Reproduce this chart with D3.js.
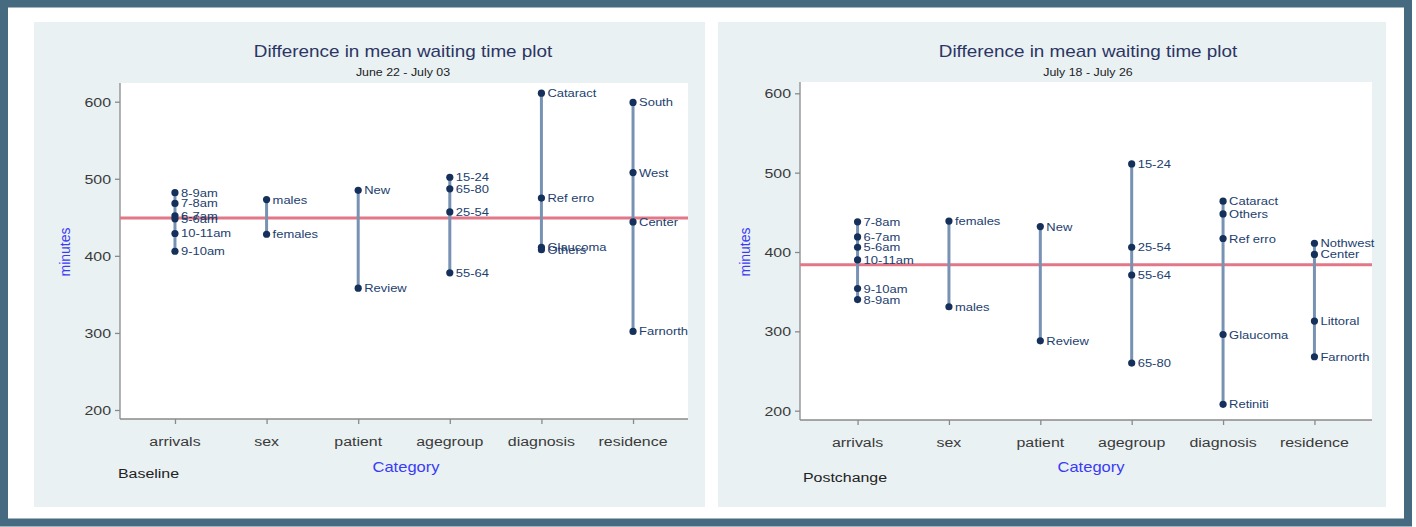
<!DOCTYPE html>
<html>
<head>
<meta charset="utf-8">
<script src="https://cdn.jsdelivr.net/npm/d3@7"></script>
<style>
  body { margin: 0; background: #fff; }
  svg { display: block; font-family: "Liberation Sans", Arial, sans-serif; }
</style>
</head>
<body>
<svg id="chart" width="1416" height="527"></svg>
<script>
var categories = ["arrivals", "sex", "patient", "agegroup", "diagnosis", "residence"];
var yTicks = [200, 300, 400, 500, 600];

// baseline, June 22 - July 03
var baseArrivals = [["8-9am", 482], ["7-8am", 468], ["6-7am", 452], ["5-6am", 448], ["10-11am", 429], ["9-10am", 406]];
var baseSex = [["males", 473], ["females", 428]];
var basePatient = [["New", 485], ["Review", 358]];
var baseAgegroup = [["15-24", 502], ["65-80", 487], ["25-54", 457], ["55-64", 378]];
var baseDiagnosis = [["Cataract", 611], ["Ref erro", 475], ["Glaucoma", 411], ["Others", 408]];
var baseResidence = [["South", 599], ["West", 508], ["Center", 444], ["Farnorth", 302]];
var baseMean = 449;

// postchange, July 18 - July 26
var postArrivals = [["7-8am", 438], ["6-7am", 419], ["5-6am", 406], ["10-11am", 390], ["9-10am", 354], ["8-9am", 340]];
var postSex = [["females", 439], ["males", 331]];
var postPatient = [["New", 432], ["Review", 288]];
var postAgegroup = [["15-24", 511], ["25-54", 406], ["55-64", 371], ["65-80", 260]];
var postDiagnosis = [["Cataract", 464], ["Others", 448], ["Ref erro", 417], ["Glaucoma", 296], ["Retiniti", 208]];
var postResidence = [["Nothwest", 411], ["Center", 397], ["Littoral", 313], ["Farnorth", 268]];
var postMean = 384;

var SX = 1.18; // the picture is a bit wider than tall
var svg = d3.select("#chart");

function txt(g, x, y, s, size, color, anchor) {
  return g.append("text")
    .attr("transform", "translate(" + x + "," + y + ") scale(" + SX + ",1)")
    .attr("font-size", size)
    .attr("fill", color)
    .attr("text-anchor", anchor || "start")
    .text(s);
}

svg.append("rect").attr("x", 4).attr("y", 3.5).attr("width", 1404).attr("height", 519)
  .attr("fill", "#fff").attr("stroke", "#466a80").attr("stroke-width", 8);

function panel(p) {
  var g = svg.append("g");
  g.append("rect").attr("x", p.px).attr("y", 22).attr("width", p.pw).attr("height", 485).attr("fill", "#e9f1f3");
  g.append("rect").attr("x", p.x0).attr("y", p.y0).attr("width", p.x1 - p.x0).attr("height", p.y1 - p.y0).attr("fill", "#fff");

  var x = d3.scalePoint().domain(categories).range([p.x0, p.x1]).padding(p.pad);
  var y = d3.scaleLinear().domain([200, 600]).range(p.yr);

  var ya = g.append("g").attr("transform", "translate(" + p.x0 + ",0)")
    .call(d3.axisLeft(y).tickValues(yTicks).tickSize(5).tickPadding(3));
  ya.select(".domain").attr("d", "M0," + p.y0 + "V" + p.y1);
  var xa = g.append("g").attr("transform", "translate(0," + p.y1 + ")")
    .call(d3.axisBottom(x).tickSize(5).tickFormat(""));
  xa.select(".domain").attr("d", "M" + p.x0 + ",0H" + p.x1);
  g.selectAll(".domain, .tick line").attr("stroke", "#8a8a8a").attr("stroke-width", 1.3);
  ya.selectAll(".tick text").remove();
  yTicks.forEach(function (t) {
    txt(g, p.x0 - 9, y(t) + 5, t, 13.5, "#3a3a3a", "end");
  });
  categories.forEach(function (c) {
    txt(g, x(c), p.y1 + 27, c, 13.5, "#3a3a3a", "middle");
  });

  // mean line
  g.append("line").attr("x1", p.x0).attr("x2", p.x1).attr("y1", y(p.mean)).attr("y2", y(p.mean))
    .attr("stroke", "#e27787").attr("stroke-width", 3);

  p.groups.forEach(function (grp, i) {
    var cx = x(categories[i]);
    var ext = d3.extent(grp, function (d) { return d[1]; });
    g.append("line").attr("x1", cx).attr("x2", cx).attr("y1", y(ext[0])).attr("y2", y(ext[1]))
      .attr("stroke", "#7792b2").attr("stroke-width", 3);
    g.selectAll(null).data(grp).enter().append("circle")
      .attr("cx", cx).attr("cy", function (d) { return y(d[1]); }).attr("r", 3.6)
      .attr("fill", "#15305a");
    grp.forEach(function (d) {
      txt(g, cx + 6, y(d[1]) + 4, d[0], 11, "#22406e");
    });
  });

  txt(g, p.tx, 57, "Difference in mean waiting time plot", 16, "#2c3563", "middle");
  txt(g, p.tx, 76, p.sub, 10.5, "#222", "middle");
  txt(g, p.tx + 3, 472, "Category", 14, "#3b3bf5", "middle");
  txt(g, p.nx, p.ny, p.name, 13.5, "#222");
  g.append("text").attr("transform", "translate(" + p.mx + ",252) rotate(-90)")
    .attr("font-size", 14).attr("fill", "#3b3bf5").attr("text-anchor", "middle").text("minutes");
}

panel({ px: 34, pw: 671, x0: 120, x1: 688, y0: 83, y1: 419, pad: 0.6, yr: [410, 101.7],
  mean: baseMean, tx: 403, sub: "June 22 - July 03", name: "Baseline", nx: 118, ny: 478, mx: 70,
  groups: [baseArrivals, baseSex, basePatient, baseAgegroup, baseDiagnosis, baseResidence] });

panel({ px: 718, pw: 668, x0: 800, x1: 1372, y0: 82, y1: 420, pad: 0.63, yr: [410.7, 93.3],
  mean: postMean, tx: 1088, sub: "July 18 - July 26", name: "Postchange", nx: 803, ny: 482, mx: 750,
  groups: [postArrivals, postSex, postPatient, postAgegroup, postDiagnosis, postResidence] });
</script>
</body>
</html>
